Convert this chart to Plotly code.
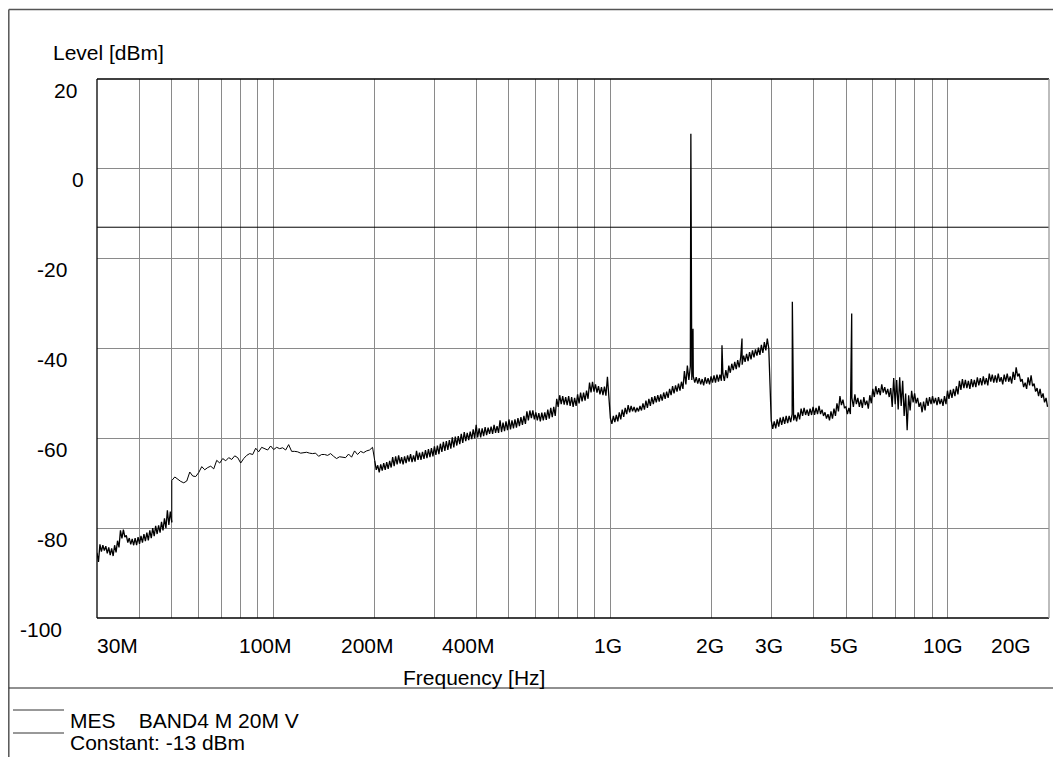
import numpy as np
import plotly.graph_objects as go

# ---------------- data (levels in dBm, frequencies in MHz) ----------------
# sweep segments: (start MHz, stop MHz)
seg_a_range = (30, 50)
seg_a_hi = [-85.5, -83.6, -83.8, -84.0, -84.3, -84.5, -83.8, -82.8, -80.5, -80.3, -81.6, -82.2, -82.4,
            -82.2, -82.0, -81.7, -81.3, -81.0, -80.5, -80.0, -79.5, -79.4, -78.6, -77.8, -76.0, -76.3]
seg_a_lo = [-87.5, -85.2, -85.0, -85.6, -86.0, -86.2, -85.4, -84.3, -82.3, -82.0, -83.2, -83.6, -83.8,
            -83.8, -83.5, -83.2, -82.9, -82.7, -82.2, -81.8, -81.3, -81.0, -80.5, -80.0, -79.3, -78.7]

seg_b_range = (50, 197)
seg_b_level = [-69.4, -68.6, -69.2, -69.6, -69.9, -69.5, -67.5, -68.4, -68.5, -67.6, -66.3, -67.0, -66.5,
               -66.2, -66.8, -64.9, -65.5, -64.5, -65.0, -64.3, -64.7, -63.9, -64.3, -65.5, -64.5, -63.8,
               -63.4, -63.6, -62.2, -63.0, -62.0, -62.3, -62.6, -61.7, -62.5, -62.0, -62.3, -62.1, -62.6,
               -61.4, -62.9, -62.9, -63.0, -63.3, -63.2, -63.1, -63.3, -63.4, -63.3, -64.0, -63.6, -63.6,
               -63.8, -63.4, -64.0, -64.5, -64.1, -64.2, -64.3, -63.5, -64.2, -62.8, -63.6, -62.9, -63.2,
               -62.8, -62.6, -62.0]

seg_c_range = (200, 990)
seg_c_hi = [-65.0, -66.0, -65.8, -65.5, -65.3, -65.0, -64.2, -64.0, -63.8, -64.2, -64.0, -63.8, -63.5,
            -63.8, -62.8, -63.2, -63.0, -62.6, -62.4, -62.2, -61.8, -61.6, -61.2, -60.8, -60.6, -60.4,
            -59.8, -59.6, -59.5, -59.0, -58.6, -58.8, -58.5, -58.0, -57.0, -57.8, -57.8, -57.5, -57.6,
            -57.4, -57.0, -57.3, -56.0, -56.5, -56.2, -55.8, -56.0, -55.8, -55.5, -55.3, -55.0, -54.0,
            -53.8, -53.8, -54.2, -54.4, -54.3, -54.2, -53.6, -53.2, -53.0, -51.2, -50.4, -50.6, -50.8,
            -50.6, -50.8, -51.0, -50.2, -49.8, -49.8, -49.4, -47.6, -47.4, -48.0, -48.4, -48.6, -48.5,
            -46.3]
seg_c_lo = [-67.0, -67.6, -67.2, -67.0, -66.8, -66.5, -66.2, -65.8, -65.6, -65.8, -65.5, -65.2, -65.3,
            -65.2, -64.8, -64.8, -64.6, -64.4, -64.2, -64.0, -63.7, -63.5, -63.0, -62.8, -62.6, -62.3,
            -62.0, -61.6, -61.3, -61.0, -60.6, -60.4, -60.2, -60.0, -59.8, -59.8, -59.5, -59.3, -59.0,
            -59.0, -58.8, -58.8, -58.6, -58.4, -58.2, -58.0, -57.8, -57.6, -57.3, -57.0, -56.8, -56.0,
            -55.5, -55.8, -56.0, -56.2, -56.0, -55.9, -55.6, -55.3, -55.0, -53.0, -52.4, -52.5, -52.6,
            -52.8, -53.0, -52.8, -52.2, -51.8, -51.6, -51.2, -49.8, -49.6, -49.8, -50.2, -50.4, -50.5,
            -50.6]

seg_d_range = (1000, 2950)
seg_d_hi = [-55.5, -55.0, -54.8, -54.2, -53.6, -53.2, -52.6, -52.8, -53.0, -53.2, -52.8, -52.2, -51.6,
            -51.2, -50.8, -50.6, -50.4, -50.2, -49.8, -49.6, -49.0, -48.4, -48.2, -47.8, -47.4, -45.0,
            -43.8, -44.0, -46.2, -46.4, -46.6, -46.8, -46.4, -46.6, -46.2, -46.0, -45.8, -45.8, -45.6,
            -44.8, -43.8, -43.4, -43.0, -42.6, -42.0, -41.6, -41.2, -40.8, -40.4, -40.2, -39.8, -39.2,
            -38.6, -37.8]
seg_d_lo = [-56.8, -56.4, -56.2, -55.8, -55.2, -54.6, -54.2, -54.0, -54.2, -54.0, -53.8, -53.6, -53.2,
            -52.8, -52.4, -52.0, -51.8, -51.6, -51.2, -51.0, -50.4, -50.0, -49.6, -49.4, -49.0, -48.0,
            -47.0, -47.0, -47.6, -47.8, -48.0, -48.2, -47.8, -48.0, -47.6, -47.6, -47.4, -47.2, -47.2,
            -46.6, -45.4, -44.8, -44.6, -44.2, -43.6, -43.0, -42.8, -42.4, -42.0, -41.6, -41.4, -41.0,
            -40.4, -40.0]

seg_e_range = (3000, 19800)
seg_e_hi = [-56.0, -56.2, -55.8, -55.4, -55.2, -55.0, -55.0, -54.6, -54.8, -54.2, -53.4, -53.2, -53.6,
            -53.4, -53.0, -53.2, -52.8, -53.6, -54.2, -54.6, -54.0, -53.4, -52.2, -50.6, -51.4, -53.0,
            -53.2, -51.0, -50.2, -51.0, -51.4, -50.8, -51.6, -50.4, -49.0, -48.4, -48.8, -48.0, -48.6,
            -49.0, -48.8, -46.6, -47.0, -46.4, -47.2, -50.0, -50.4, -49.4, -50.0, -51.0, -52.0, -51.8,
            -51.0, -50.8, -50.6, -51.0, -50.8, -51.2, -50.6, -49.4, -49.2, -49.0, -48.4, -47.2, -46.8,
            -47.0, -47.2, -46.8, -47.0, -46.4, -46.6, -46.2, -46.6, -45.6, -45.8, -46.0, -45.6, -46.4,
            -45.8, -45.6, -46.2, -45.2, -44.2, -45.6, -46.8, -47.6, -46.4, -46.0, -47.8, -48.8, -49.0,
            -50.0, -51.0]
seg_e_lo = [-57.9, -57.8, -57.4, -57.0, -56.8, -56.6, -56.4, -56.0, -56.2, -55.8, -55.0, -54.8, -55.0,
            -54.8, -54.8, -54.6, -54.6, -55.0, -55.6, -56.0, -55.6, -55.0, -54.0, -52.6, -53.2, -54.6,
            -54.6, -53.0, -52.4, -53.0, -53.2, -52.6, -53.4, -52.2, -50.8, -50.2, -50.4, -49.8, -50.2,
            -50.8, -53.0, -52.4, -53.6, -52.8, -55.0, -58.2, -53.8, -52.0, -52.2, -53.0, -54.2, -53.8,
            -52.8, -52.4, -52.2, -52.6, -52.4, -52.8, -52.4, -51.2, -51.0, -50.6, -50.2, -49.2, -48.8,
            -48.8, -49.0, -48.6, -48.6, -48.2, -48.2, -48.0, -48.2, -47.4, -47.6, -47.6, -47.4, -48.0,
            -47.4, -47.4, -47.8, -47.0, -46.2, -47.4, -48.6, -49.0, -48.2, -48.4, -49.6, -50.6, -51.0,
            -52.0, -53.0]

# narrow emissions (carrier and spurious)
spike_freq = [1732.5, 1758, 2143, 2457, 3465, 5197.5]
spike_level = [7.8, -35.6, -39.3, -37.8, -29.6, -32.2]

# limit line
constant_level = -13
constant_freq = [30, 20000]

# axis labels
x_tick_vals = [30, 100, 200, 400, 1000, 2000, 3000, 5000, 10000, 20000]
x_tick_text = ["30M", "100M", "200M", "400M", "1G", "2G", "3G", "5G", "10G", "20G"]
y_tick_vals = [20, 0, -20, -40, -60, -80, -100]

legend_rows = ["MES\u00a0\u00a0\u00a0\u00a0BAND4 M 20M V", "Constant: -13 dBm"]


# ---------------- build trace ----------------
def band(rng, hi, lo):
    f = np.geomspace(rng[0], rng[1], 2 * len(hi))
    lv = np.empty(2 * len(hi))
    lv[0::2] = hi
    lv[1::2] = lo
    return f, lv


fa, la = band(seg_a_range, seg_a_hi, seg_a_lo)
fb = np.geomspace(seg_b_range[0], seg_b_range[1], len(seg_b_level))
lb = np.array(seg_b_level, float)
rest = [band(seg_c_range, seg_c_hi, seg_c_lo),
        band(seg_d_range, seg_d_hi, seg_d_lo),
        band(seg_e_range, seg_e_hi, seg_e_lo),
        (np.array(spike_freq, float), np.array(spike_level, float))]
fr = np.concatenate([p[0] for p in rest])
lr = np.concatenate([p[1] for p in rest])
o = np.argsort(fr, kind="stable")
fr, lr = fr[o], lr[o]

# dense (thick-looking) parts of the sweep, with a break where the sparse 50-200 MHz band is
thick_x = list(fa * 1e6) + [None] + list(fr * 1e6)
thick_y = list(la) + [None] + list(lr)
# sparse part, joined to its neighbours
thin_x = [fa[-1] * 1e6] + list(fb * 1e6) + [fr[0] * 1e6]
thin_y = [la[-1]] + list(lb) + [lr[0]]

# ---------------- figure ----------------
# page is rendered with an 8 px body margin -> figure origin at page (8, 8)
OFF = 8
PAGE_W, PAGE_H = 1061, 757
PL, PT, PR, PB = 97, 79, 1049, 618          # plot area in page pixels
W, H = PAGE_W - OFF, PAGE_H - OFF
ML, MT = PL - OFF, PT - OFF
PW, PH = PR - PL, PB - PT
MR, MB = W - ML - PW, H - MT - PH
FONT = dict(family="Liberation Sans, Arial, sans-serif", size=21, color="black")


def px_x(p):
    return (p - PL) / PW


def px_y(p):
    return (PB - p) / PH


fig = go.Figure()
fig.add_trace(go.Scatter(x=[f * 1e6 for f in constant_freq], y=[constant_level] * 2, mode="lines",
                         line=dict(color="black", width=1), hoverinfo="skip"))
fig.add_trace(go.Scatter(x=thin_x, y=thin_y, mode="lines", line=dict(color="black", width=1)))
fig.add_trace(go.Scatter(x=thick_x, y=thick_y, mode="lines", connectgaps=False,
                         line=dict(color="black", width=1.3)))

grid_x = [k * 10 ** e for e in (7, 8, 9, 10) for k in range(1, 10)
          if 30e6 < k * 10 ** e < 20e9]
grid_y = [v for v in y_tick_vals if -100 < v < 20]

fig.update_xaxes(type="log", range=[np.log10(30e6), np.log10(20e9)], tickvals=grid_x,
                 showticklabels=False, ticks="", showgrid=True, gridcolor="#8a8a8a", gridwidth=1,
                 zeroline=False, showline=False)
fig.update_yaxes(range=[-100, 20], tickvals=grid_y, showticklabels=False, ticks="",
                 showgrid=True, gridcolor="#8a8a8a", gridwidth=1, zeroline=False, showline=False)

ann = []
n = len(x_tick_vals)
for i, (v, t) in enumerate(zip(x_tick_vals, x_tick_text)):
    if i == 0:
        xa, xs = "left", -2
    elif i == n - 1:
        xa, xs = "right", -16
    else:
        xa, xs = "left", -9 * len(t)
    ann.append(dict(x=np.log10(v * 1e6), xref="x", y=0, yref="paper", yanchor="middle", yshift=-27,
                    xanchor=xa, xshift=xs, text=t, showarrow=False, font=FONT))
for v in y_tick_vals:
    t = str(v)
    ann.append(dict(x=0, xref="paper", xanchor="left", xshift=-8 - 17.3 * len(t) - 2,
                    y=v, yref="y", yanchor="middle", yshift=-11, text=t, showarrow=False, font=FONT))
ann.append(dict(x=0, xref="paper", xanchor="left", xshift=53 - PL - 2, y=1, yref="paper",
                yanchor="middle", yshift=PT - 52, text="Level [dBm]", showarrow=False, font=FONT))
ann.append(dict(x=px_x(474), xref="paper", xanchor="center", y=px_y(677), yref="paper",
                yanchor="middle", text="Frequency [Hz]", showarrow=False, font=FONT))
for t, yc in zip(legend_rows, (720, 742)):
    ann.append(dict(x=px_x(70), xref="paper", xanchor="left", xshift=-2, y=px_y(yc), yref="paper",
                    yanchor="middle", text=t, showarrow=False, font=FONT))

shapes = []
frame = dict(color="#555555", width=1.5)
shapes.append(dict(type="line", xref="paper", yref="paper", x0=px_x(8.8), x1=px_x(PAGE_W + 5),
                   y0=px_y(9.5), y1=px_y(9.5), line=frame))
shapes.append(dict(type="line", xref="paper", yref="paper", x0=px_x(8.8), x1=px_x(8.8),
                   y0=px_y(9.5), y1=px_y(PAGE_H + 5), line=frame))
shapes.append(dict(type="line", xref="paper", yref="paper", x0=px_x(8.8), x1=px_x(PAGE_W + 5),
                   y0=px_y(688), y1=px_y(688), line=dict(color="#222222", width=1.2)))
for yy in (710, 733):
    shapes.append(dict(type="line", xref="paper", yref="paper", x0=px_x(13), x1=px_x(64),
                       y0=px_y(yy), y1=px_y(yy), line=dict(color="#333333", width=1)))
# plot frame
blk = dict(color="black", width=1.3)
shapes.append(dict(type="line", xref="paper", yref="paper", x0=0, x1=1, y0=1, y1=1, line=blk))
shapes.append(dict(type="line", xref="paper", yref="paper", x0=0, x1=1, y0=0, y1=0, line=blk))
shapes.append(dict(type="line", xref="paper", yref="paper", x0=0, x1=0, y0=0, y1=1, line=blk))
shapes.append(dict(type="line", xref="paper", yref="paper", x0=1, x1=1, y0=0, y1=1,
                   line=dict(color="#9a9a9a", width=1.3)))

fig.update_layout(width=W, height=H, margin=dict(l=ML, r=MR, t=MT, b=MB, pad=0),
                  paper_bgcolor="white", plot_bgcolor="white", showlegend=False,
                  annotations=ann, shapes=shapes, font=FONT)

fig.write_html("out.html")
